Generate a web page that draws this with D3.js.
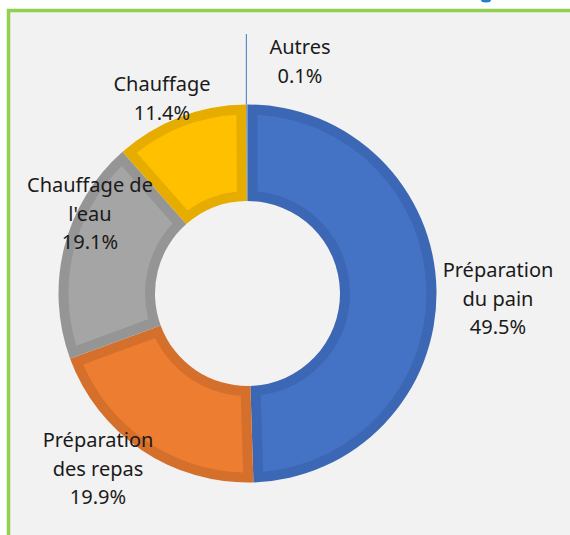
<!DOCTYPE html>
<html>
<head>
<meta charset="utf-8">
<script src="https://cdn.jsdelivr.net/npm/d3@7"></script>
<style>
  html, body { margin: 0; padding: 0; background: #ffffff; }
  svg { display: block; }
</style>
</head>
<body>
<script>
// data
var categories = ["Préparation du pain", "Préparation des repas", "Chauffage de l'eau", "Chauffage", "Autres"];
var values = [49.5, 19.9, 19.1, 11.4, 0.1];
var labelLines = [
  ["Préparation", "du pain", "49.5%"],
  ["Préparation", "des repas", "19.9%"],
  ["Chauffage de", "l'eau", "19.1%"],
  ["Chauffage", "11.4%"],
  ["Autres", "0.1%"]
];
var fillColors = ["#4472c4", "#ed7d31", "#a5a5a5", "#ffc000", "#5b9bd5"];
var edgeColors = ["#3c67b4", "#d46f2c", "#959595", "#e6ad00", "#4a86c0"];

// layout
var width = 570, height = 535;
var center = [247.5, 293.5];
var outerR = 189, innerR = 92.5, band = 10;
var lineGap = 28.5;
// label anchor: x centre, baseline of first line
var labelPos = [[498, 277], [98, 447], [90, 192], [162, 91], [300, 54]];

var svg = d3.select("body").append("svg")
  .attr("width", width)
  .attr("height", height);

// green frame of the chart area
svg.append("rect")
  .attr("x", 8.5).attr("y", 10.5)
  .attr("width", 620).attr("height", 600)
  .attr("fill", "#f2f2f2")
  .attr("stroke", "#92d050")
  .attr("stroke-width", 3.5);

// bit of the cut-off title above the frame
svg.append("ellipse")
  .attr("cx", 486).attr("cy", 0)
  .attr("rx", 5).attr("ry", 2.5)
  .attr("fill", "#1f80d0");

var pie = d3.pie().sort(null).value(function(d) { return d; });
var arcs = pie(values);

var outerArc = d3.arc().innerRadius(innerR).outerRadius(outerR);
var insetArc = d3.arc()
  .innerRadius(innerR + band)
  .outerRadius(outerR - band)
  .padRadius(100)
  .padAngle(2 * band / 100);

var g = svg.append("g").attr("transform", "translate(" + center[0] + "," + center[1] + ")");

// darker border band
g.selectAll("path.edge")
  .data(arcs)
  .enter().append("path")
  .attr("class", "edge")
  .attr("d", outerArc)
  .attr("fill", function(d, i) { return edgeColors[i]; });

// lighter inner fill
g.selectAll("path.fill")
  .data(arcs)
  .enter().append("path")
  .attr("class", "fill")
  .attr("d", insetArc)
  .attr("fill", function(d, i) { return fillColors[i]; });

// leader line for the tiny slice
var last = arcs[arcs.length - 1];
var mid = (last.startAngle + last.endAngle) / 2;
svg.append("line")
  .attr("x1", center[0] + outerR * Math.sin(mid) - 0.5)
  .attr("y1", center[1] - outerR * Math.cos(mid))
  .attr("x2", center[0] + outerR * Math.sin(mid) - 0.5)
  .attr("y2", 34)
  .attr("stroke", "#5b8cc8")
  .attr("stroke-width", 1.2);

// data labels
var labels = svg.selectAll("text.lbl")
  .data(labelLines)
  .enter().append("text")
  .attr("class", "lbl")
  .attr("text-anchor", "middle")
  .attr("font-family", "Noto Sans, sans-serif")
  .attr("font-size", 20)
  .attr("fill", "#1a1a1a");

labels.each(function(lines, i) {
  var t = d3.select(this);
  lines.forEach(function(s, j) {
    t.append("tspan")
      .attr("x", labelPos[i][0])
      .attr("y", labelPos[i][1] + j * lineGap)
      .text(s);
  });
});
</script>
</body>
</html>
